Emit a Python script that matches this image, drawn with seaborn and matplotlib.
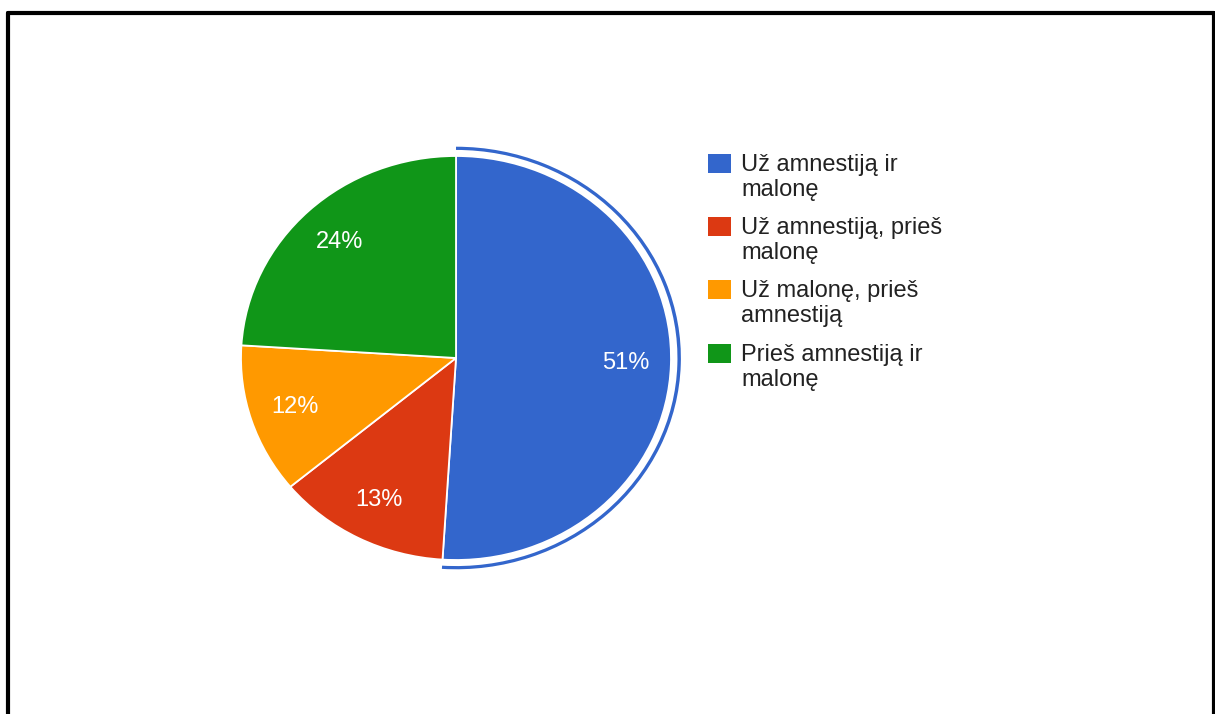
import matplotlib.pyplot as plt
import seaborn as sns
from matplotlib.patches import Wedge, Rectangle

sns.set_style("white")
plt.rcParams['font.family'] = ['Liberation Sans', 'DejaVu Sans']

# data
labels = ['Už amnestiją ir\nmalonę', 'Už amnestiją, prieš\nmalonę',
          'Už malonę, prieš\namnestiją', 'Prieš amnestiją ir\nmalonę']
shares = [51, 13, 12, 24]
colors = ['#3366cc', '#dc3912', '#ff9900', '#109618']

W, H = 1215, 714
fig = plt.figure(figsize=(W / 100, H / 100), dpi=100)

# pie axes placed in pixel terms (pie is a bit wider than tall)
left, right, top, bottom = 241, 671, 156, 560
ax = fig.add_axes([left / W, (H - bottom) / H, (right - left) / W, (bottom - top) / H])
wedges, _, autotexts = ax.pie(shares, colors=colors, startangle=90, counterclock=False,
                              autopct='%1.0f%%', pctdistance=0.79,
                              wedgeprops=dict(edgecolor='white', linewidth=1.3))
for t in autotexts:
    t.set_color('white')
    t.set_fontsize(17)
ax.set_aspect('auto')
ax.set_xlim(-1, 1)
ax.set_ylim(-1, 1)
ax.axis('off')

# highlight ring around the first (selected) slice
end_angle = 90 - shares[0] / sum(shares) * 360
ring = Wedge((0, 0), 1.046, end_angle, 90, width=0.016, facecolor=colors[0],
             edgecolor='none', clip_on=False)
ax.add_patch(ring)

# legend drawn by hand so the square lines up with the first text line
y0 = 154
for i, (lab, c) in enumerate(zip(labels, colors)):
    y = y0 + i * 63.2
    fig.patches.append(Rectangle((708 / W, 1 - (y + 19) / H), 23 / W, 19 / H,
                                 facecolor=c, edgecolor='none', transform=fig.transFigure))
    fig.text(741 / W, 1 - y / H, lab, fontsize=17, color='#222222',
             va='top', ha='left', linespacing=1.18)

# frame around the chart
fig.add_artist(plt.Line2D([7.5 / W, 7.5 / W], [0, 1 - 12.5 / H], color='black', lw=3))
fig.add_artist(plt.Line2D([7.5 / W, 1213.5 / W], [1 - 12.5 / H, 1 - 12.5 / H], color='black', lw=3))
fig.add_artist(plt.Line2D([1213.5 / W, 1213.5 / W], [0, 1 - 12.5 / H], color='black', lw=3))

fig.savefig('out.png', dpi=100)
